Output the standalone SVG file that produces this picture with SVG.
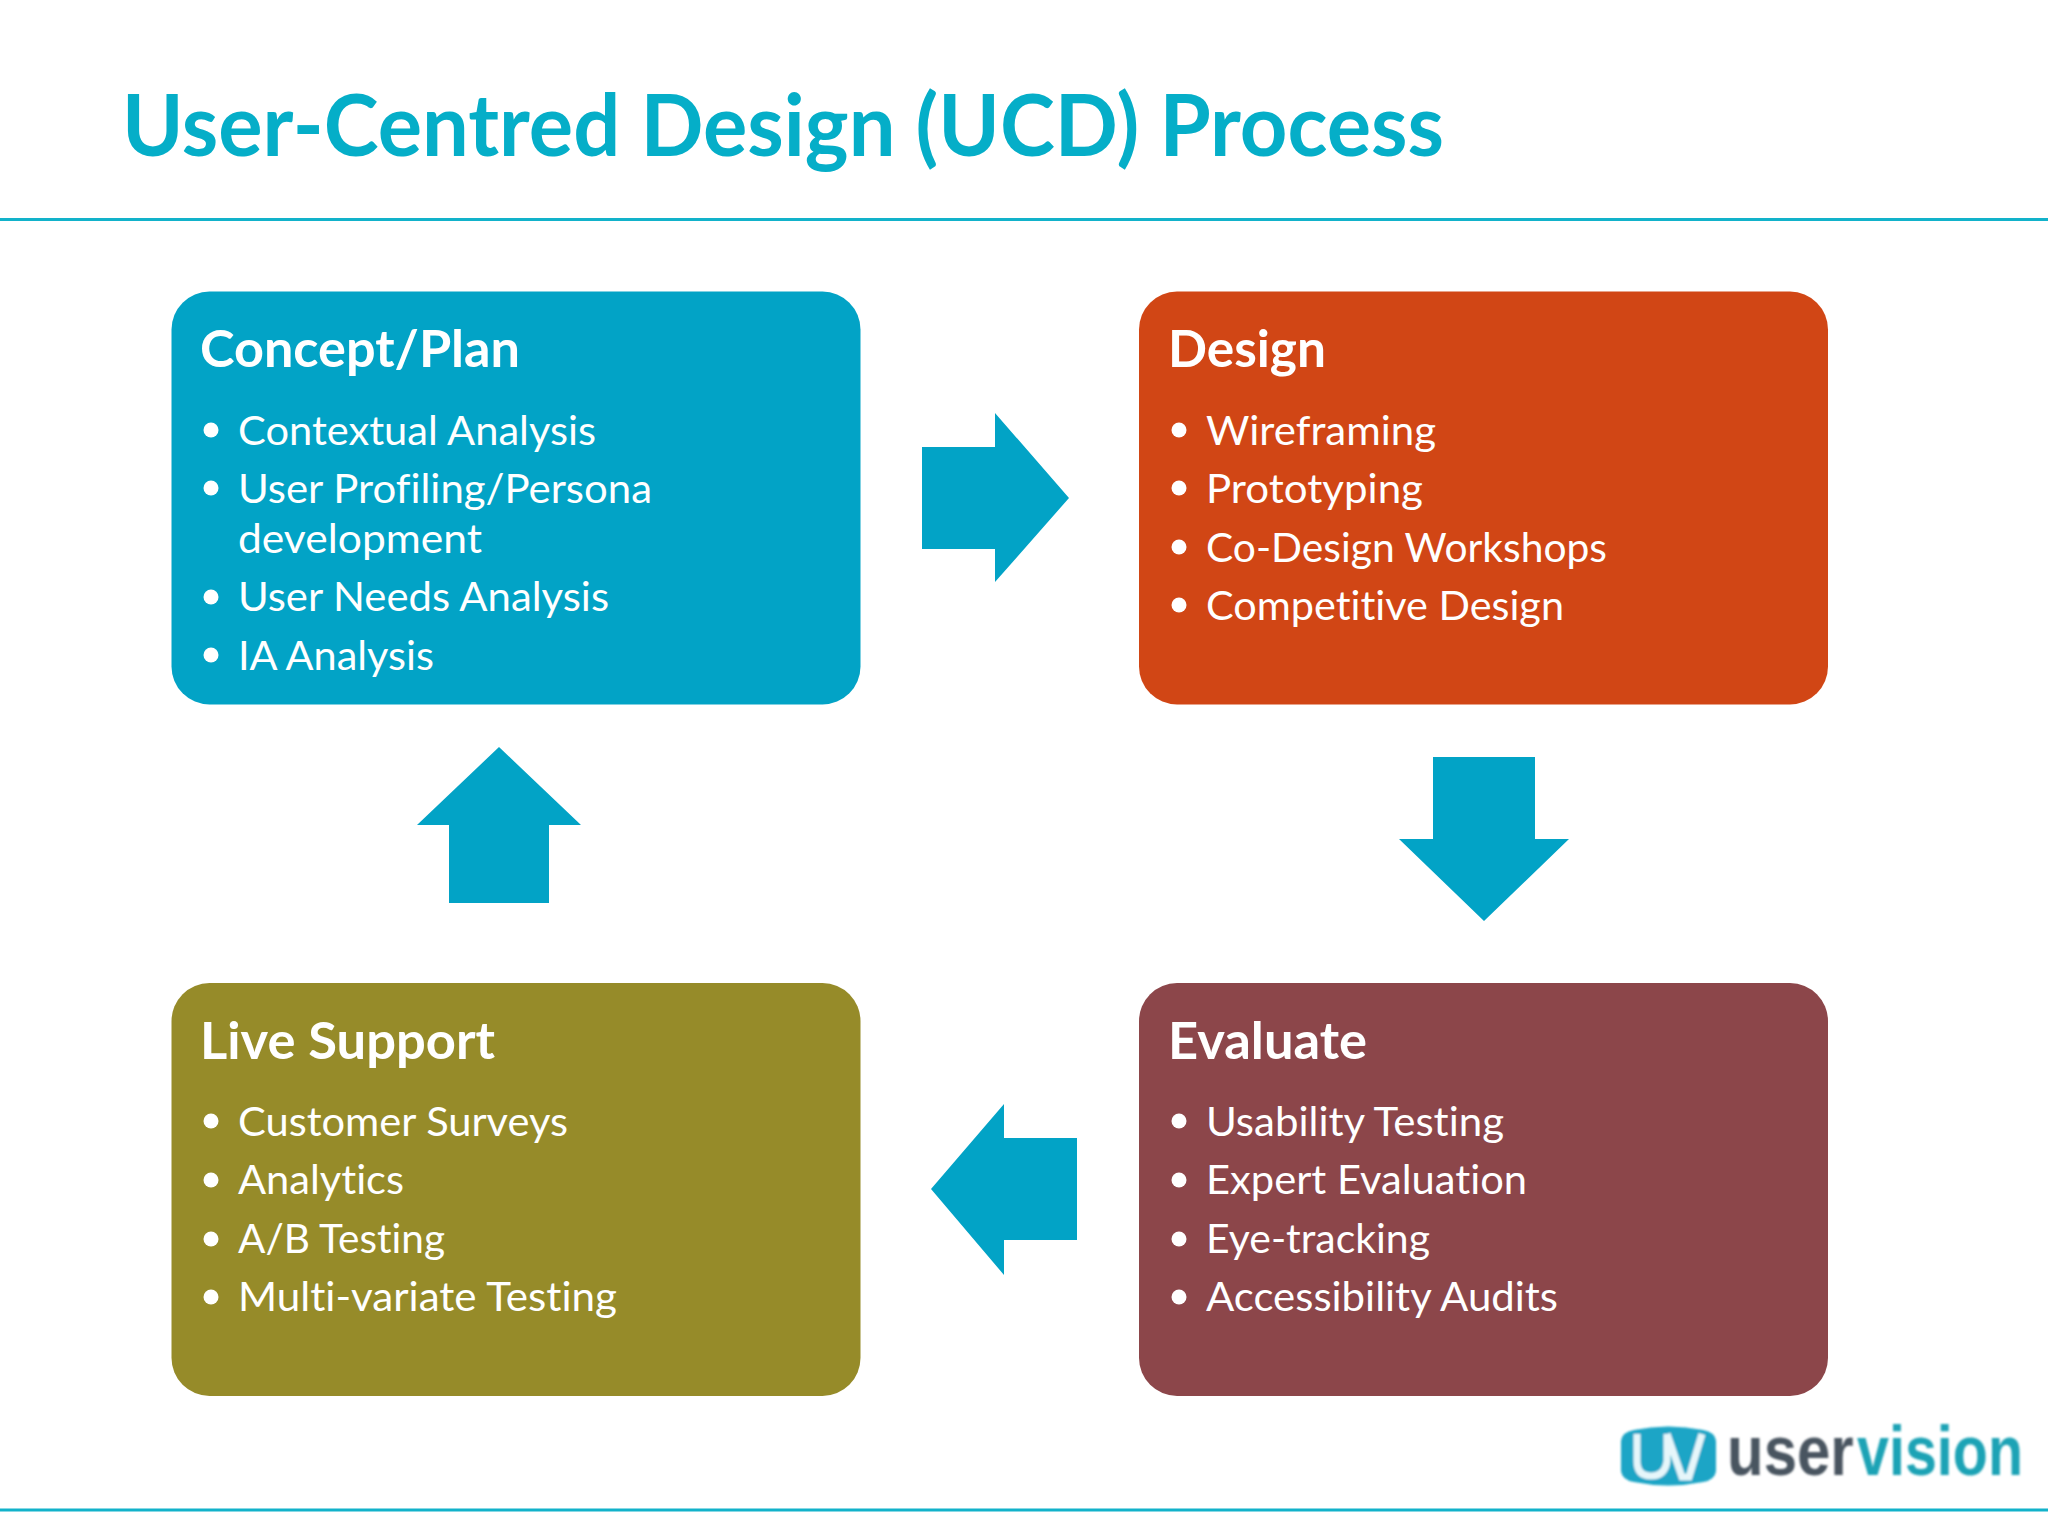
<svg xmlns="http://www.w3.org/2000/svg" width="2048" height="1536" viewBox="0 0 2048 1536">
<defs>
<style>
text{font-family:"Lato","Noto Sans",sans-serif;font-variant-ligatures:none;}
.title{font-size:86px;font-weight:700;fill:#05aec8;}
.head{font-size:51px;font-weight:700;fill:#fff;}
.item{font-size:40px;fill:#fff;}
.logo{font-family:"Liberation Sans",sans-serif;font-size:60px;font-weight:700;}
.box{stroke:none;}
.dot{fill:#fff;}
.arrow{fill:#02a3c6;}
.rule{stroke:#12b2ca;stroke-width:3;}
</style>
<filter id="soft" x="-5%" y="-5%" width="110%" height="110%"><feGaussianBlur stdDeviation="0.8"/></filter>
</defs>
<rect width="2048" height="1536" fill="#fff"/>
<text id="title" class="title" x="122" y="156" textLength="1322" lengthAdjust="spacingAndGlyphs">User-Centred Design (UCD) Process</text>
<line class="rule" x1="0" y1="219.5" x2="2048" y2="219.5"/>
<line class="rule" x1="0" y1="1510" x2="2048" y2="1510"/>
<g id="connectors">
<polygon class="arrow" points="922,447 995,447 995,413 1069,498 995,582 995,549 922,549"/>
<polygon class="arrow" points="1433,757 1535,757 1535,839 1569,839 1484,921 1399,839 1433,839"/>
<polygon class="arrow" points="1077,1138 1004,1138 1004,1104 931,1189 1004,1275 1004,1240 1077,1240"/>
<polygon class="arrow" points="499,747 581,825 549,825 549,903 449,903 449,825 417,825"/>
</g>
<g id="concept-plan">
<rect class="box" x="171.500" y="291.500" width="689" height="413" rx="38" fill="#02a3c6"/>
<text class="head" x="200" y="367" textLength="320" lengthAdjust="spacingAndGlyphs">Concept/Plan</text>
<circle class="dot" cx="211" cy="430" r="7.500"/><text class="item" x="238" y="445" textLength="358" lengthAdjust="spacingAndGlyphs">Contextual Analysis</text>
<circle class="dot" cx="211" cy="488" r="7.500"/><text class="item" x="238" y="503" textLength="414" lengthAdjust="spacingAndGlyphs">User Profiling/Persona</text>
<text class="item" x="238" y="553" textLength="244" lengthAdjust="spacingAndGlyphs">development</text>
<circle class="dot" cx="211" cy="597" r="7.500"/><text class="item" x="238" y="611" textLength="371" lengthAdjust="spacingAndGlyphs">User Needs Analysis</text>
<circle class="dot" cx="211" cy="655" r="7.500"/><text class="item" x="238" y="670" textLength="196" lengthAdjust="spacingAndGlyphs">IA Analysis</text>
</g>
<g id="design">
<rect class="box" x="1139" y="291.500" width="689" height="413" rx="38" fill="#d14615"/>
<text class="head" x="1168" y="367" textLength="158" lengthAdjust="spacingAndGlyphs">Design</text>
<circle class="dot" cx="1179" cy="430" r="7.500"/><text class="item" x="1206" y="445" textLength="230" lengthAdjust="spacingAndGlyphs">Wireframing</text>
<circle class="dot" cx="1179" cy="488" r="7.500"/><text class="item" x="1206" y="503" textLength="217" lengthAdjust="spacingAndGlyphs">Prototyping</text>
<circle class="dot" cx="1179" cy="547" r="7.500"/><text class="item" x="1206" y="562" textLength="401" lengthAdjust="spacingAndGlyphs">Co-Design Workshops</text>
<circle class="dot" cx="1179" cy="605" r="7.500"/><text class="item" x="1206" y="620" textLength="358" lengthAdjust="spacingAndGlyphs">Competitive Design</text>
</g>
<g id="live-support">
<rect class="box" x="171.500" y="983" width="689" height="413" rx="38" fill="#968b29"/>
<text class="head" x="200" y="1059" textLength="295" lengthAdjust="spacingAndGlyphs">Live Support</text>
<circle class="dot" cx="211" cy="1121" r="7.500"/><text class="item" x="238" y="1136" textLength="330" lengthAdjust="spacingAndGlyphs">Customer Surveys</text>
<circle class="dot" cx="211" cy="1180" r="7.500"/><text class="item" x="238" y="1194" textLength="166" lengthAdjust="spacingAndGlyphs">Analytics</text>
<circle class="dot" cx="211" cy="1239" r="7.500"/><text class="item" x="238" y="1253" textLength="207" lengthAdjust="spacingAndGlyphs">A/B Testing</text>
<circle class="dot" cx="211" cy="1297" r="7.500"/><text class="item" x="238" y="1311" textLength="379" lengthAdjust="spacingAndGlyphs">Multi-variate Testing</text>
</g>
<g id="evaluate">
<rect class="box" x="1139" y="983" width="689" height="413" rx="38" fill="#8c464a"/>
<text class="head" x="1168" y="1059" textLength="199" lengthAdjust="spacingAndGlyphs">Evaluate</text>
<circle class="dot" cx="1179" cy="1121" r="7.500"/><text class="item" x="1206" y="1136" textLength="298" lengthAdjust="spacingAndGlyphs">Usability Testing</text>
<circle class="dot" cx="1179" cy="1180" r="7.500"/><text class="item" x="1206" y="1194" textLength="321" lengthAdjust="spacingAndGlyphs">Expert Evaluation</text>
<circle class="dot" cx="1179" cy="1239" r="7.500"/><text class="item" x="1206" y="1253" textLength="224" lengthAdjust="spacingAndGlyphs">Eye-tracking</text>
<circle class="dot" cx="1179" cy="1297" r="7.500"/><text class="item" x="1206" y="1311" textLength="352" lengthAdjust="spacingAndGlyphs">Accessibility Audits</text>
</g>
<g id="logo" filter="url(#soft)">
<path d="M1621,1441 Q1622,1432 1634,1430 Q1668,1423 1703,1430 Q1715,1432 1716,1441 L1716,1471 Q1715,1480 1703,1482 Q1668,1489 1634,1482 Q1622,1480 1621,1471 Z" fill="#1aa5c6"/>
<path d="M1637,1434 L1637,1461 Q1637,1476 1651,1476 Q1665,1476 1667,1461 L1667,1434 M1667,1434 L1682,1477 L1689,1477 L1702,1434" fill="none" stroke="#e6f6fa" stroke-width="7"/>
<text class="logo" transform="translate(1727,1475) scale(1,1.17)" x="0" y="0" fill="#4a5560">user</text>
<text class="logo" transform="translate(1857,1475) scale(1,1.17)" x="0" y="0" fill="#1fa3b5" textLength="166" lengthAdjust="spacingAndGlyphs">vision</text>
</g>
</svg>
